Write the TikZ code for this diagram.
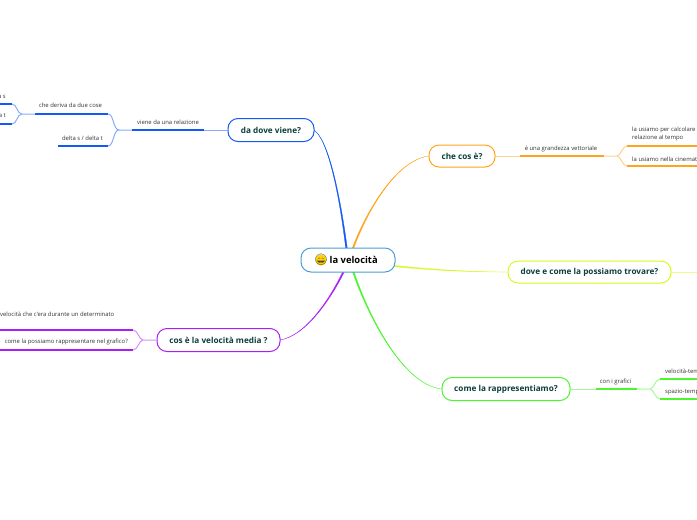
\documentclass[tikz,border=0pt]{standalone}
\usepackage{fontspec}
\setmainfont{Open Sans}
\newfontfamily\emojifont{Noto Emoji}
\definecolor{ink}{HTML}{0B3D3D}
\definecolor{txt}{HTML}{333333}
\definecolor{cblue}{HTML}{1459F5}
\definecolor{corange}{HTML}{FFA41F}
\definecolor{cyellow}{HTML}{D6FA1E}
\definecolor{cgreen}{HTML}{4CF52E}
\definecolor{cpurple}{HTML}{AB1FF5}
\definecolor{croot}{HTML}{4A9ED6}
\tikzset{
  topic/.style={draw=#1,line width=1pt,fill=white,rounded corners=10pt,inner sep=0pt,text=ink,font=\fontsize{8.2}{10}\selectfont\bfseries,anchor=center},
  root/.style={draw=#1,line width=1pt,fill=white,rounded corners=10pt,inner sep=0pt,text=black,font=\fontsize{9.4}{11}\selectfont\bfseries,anchor=center},
  lab/.style={text=txt,font=\fontsize{5.9}{8.7}\selectfont,inner sep=0pt,align=left},
  thick line/.style={draw=#1,line width=1.6pt},
  thin line/.style={draw=#1!50,line width=1pt},
  main line/.style={fill=#1,draw=#1,line width=0.3pt,line join=round},
}
\begin{document}
\begin{tikzpicture}[x=1pt,y=-1pt]
\useasboundingbox (0,0) rectangle (697,520);
\clip (0,0) rectangle (697,520);
% main branches (tapered: broad at the root, fine at the topic)
\coordinate (bl) at (345.8,249); \coordinate (br) at (347.4,249);
\coordinate (ol) at (351.9,249); \coordinate (or) at (353.5,249);
\coordinate (yt) at (394,265.4); \coordinate (yb) at (394,266.6);
\coordinate (gl) at (352.3,271); \coordinate (gr) at (353.9,271);
\coordinate (pl) at (343.1,271); \coordinate (pr) at (344.7,271);
\coordinate (be) at (314,130); \coordinate (oe) at (429,156); \coordinate (ye) at (508,272); \coordinate (ge) at (442,389); \coordinate (pe) at (280,340);
\path[main line=cblue] (bl) .. controls (339.3,195) and (328.3,140) .. (be) .. controls (328.7,140) and (340.2,195) .. (br) -- cycle;
\path[main line=corange] (ol) .. controls (364.4,215) and (395,160) .. (oe) .. controls (395,160.3) and (365.6,215) .. (or) -- cycle;
\path[main line=cyellow] (yt) .. controls (430,269.3) and (470,272) .. (ye) .. controls (470,272.1) and (430,270.2) .. (yb) -- cycle;
\path[main line=cgreen] (gl) .. controls (363.4,305) and (400,385) .. (ge) .. controls (400,384.7) and (364.6,305) .. (gr) -- cycle;
\path[main line=cpurple] (pl) .. controls (329.4,300) and (305,336) .. (pe) .. controls (305,336.3) and (330.6,300) .. (pr) -- cycle;
% central
\node[root=croot,minimum width=94pt,minimum height=24pt] (root) at (348,260) {};
\fill[yellow!70!orange] (321,260) circle (5.6pt);
\node[inner sep=0pt,font=\emojifont\fontsize{11}{11}\selectfont,text=black!80] (smile) at (321,260) {😄};
\node[inner sep=0pt,anchor=west,text=black,font=\fontsize{9.4}{11}\selectfont\bfseries] (roottext) at (329.5,260) {la velocità};
% topics
\node[topic=cblue,minimum width=86pt,minimum height=23pt] (dove) at (271,130) {da dove viene?};
\node[topic=corange,minimum width=66pt,minimum height=22pt] (che) at (462,156) {che cos è?};
\node[topic=cyellow,minimum width=163pt,minimum height=22pt] (trov) at (589.5,272) {dove e come la possiamo trovare?};
\node[topic=cgreen,minimum width=128pt,minimum height=23pt] (rapp) at (506,389) {come la rappresentiamo?};
\node[topic=cpurple,minimum width=123pt,minimum height=23pt] (media) at (218.5,340) {cos è la velocità media ?};
% blue subtree
\coordinate (b1) at (204,130); \coordinate (b2) at (132,130); \coordinate (bf) at (119,130);
\coordinate (b3) at (108,114); \coordinate (b4) at (35,114); \coordinate (b5) at (108,146); \coordinate (b6) at (58,146);
\coordinate (bg) at (22,114); \coordinate (b7) at (12,104); \coordinate (b8) at (-2,104); \coordinate (b9) at (12,124); \coordinate (b10) at (-2,124);
\draw[thin line=cblue] (dove.west) -- (b1);
\draw[thick line=cblue] (b1) -- (b2);
\draw[thin line=cblue] (b2) -- (bf) .. controls (113,130) and (114,114) .. (b3);
\draw[thin line=cblue] (bf) .. controls (113,130) and (114,146) .. (b5);
\draw[thick line=cblue] (b3) -- (b4);
\draw[thick line=cblue] (b5) -- (b6);
\draw[thin line=cblue] (b4) -- (bg) .. controls (17,114) and (17,104) .. (b7);
\draw[thin line=cblue] (bg) .. controls (17,114) and (17,124) .. (b9);
\draw[thick line=cblue] (b7) -- (b8);
\draw[thick line=cblue] (b9) -- (b10);
\node[lab] (t1) at (168,122.5) {viene da una relazione};
\node[lab] (t2) at (70.5,105.5) {che deriva da due cose};
\node[lab,anchor=east] (t3) at (103,138.5) {delta s / delta t};
\node[lab,anchor=east] (t4) at (6,96) {delta s};
\node[lab,anchor=east] (t5) at (6,115.5) {delta t};
% orange subtree
\coordinate (o1) at (520,156); \coordinate (o2) at (604,156); \coordinate (of) at (617,156);
\coordinate (o3) at (627,146); \coordinate (o4) at (699,146); \coordinate (o5) at (627,166); \coordinate (o6) at (699,166);
\draw[thin line=corange] (che.east) -- (o1);
\draw[thick line=corange] (o1) -- (o2);
\draw[thin line=corange] (o2) -- (of) .. controls (621,156) and (622,146) .. (o3);
\draw[thin line=corange] (of) .. controls (621,156) and (622,166) .. (o5);
\draw[thick line=corange] (o3) -- (o4);
\draw[thick line=corange] (o5) -- (o6);
\node[lab] (t6) at (561,149) {è una grandezza vettoriale};
\node[lab,anchor=north west] (t7) at (632,126.5) {la usiamo per calcolare la velocità in\\relazione al tempo};
\node[lab,anchor=west] (t8) at (632,159) {la usiamo nella cinematica};
% yellow
\coordinate (y1) at (699,272);
\draw[thin line=cyellow] (trov.east) -- (y1);
% green subtree
\coordinate (g1) at (596,389); \coordinate (g2) at (637,389); \coordinate (gf) at (650,389);
\coordinate (g3) at (660,379); \coordinate (g4) at (699,379); \coordinate (g5) at (660,399); \coordinate (g6) at (699,399);
\draw[thin line=cgreen] (rapp.east) -- (g1);
\draw[thick line=cgreen] (g1) -- (g2);
\draw[thin line=cgreen] (g2) -- (gf) .. controls (654,389) and (655,379) .. (g3);
\draw[thin line=cgreen] (gf) .. controls (654,389) and (655,399) .. (g5);
\draw[thick line=cgreen] (g3) -- (g4);
\draw[thick line=cgreen] (g5) -- (g6);
\node[lab] (t9) at (615.5,382) {con i grafici};
\node[lab,anchor=west] (t10) at (665,372) {velocità-tempo};
\node[lab,anchor=west] (t11) at (665,392) {spazio-tempo};
% purple subtree
\coordinate (pf) at (143,340);
\coordinate (p3) at (133,330); \coordinate (p4) at (-2,330); \coordinate (p5) at (133,350); \coordinate (p6) at (-2,350);
\draw[thin line=cpurple] (media.west) -- (pf) .. controls (139,340) and (138,330) .. (p3);
\draw[thin line=cpurple] (pf) .. controls (139,340) and (138,350) .. (p5);
\draw[thick line=cpurple] (p3) -- (p4);
\draw[thick line=cpurple] (p5) -- (p6);
\node[lab,anchor=east] (t12) at (114.5,314) {è la velocità che c'era durante un determinato};
\node[lab,anchor=east] (t13) at (128,342) {come la possiamo rappresentare nel grafico?};
\end{tikzpicture}
\end{document}
